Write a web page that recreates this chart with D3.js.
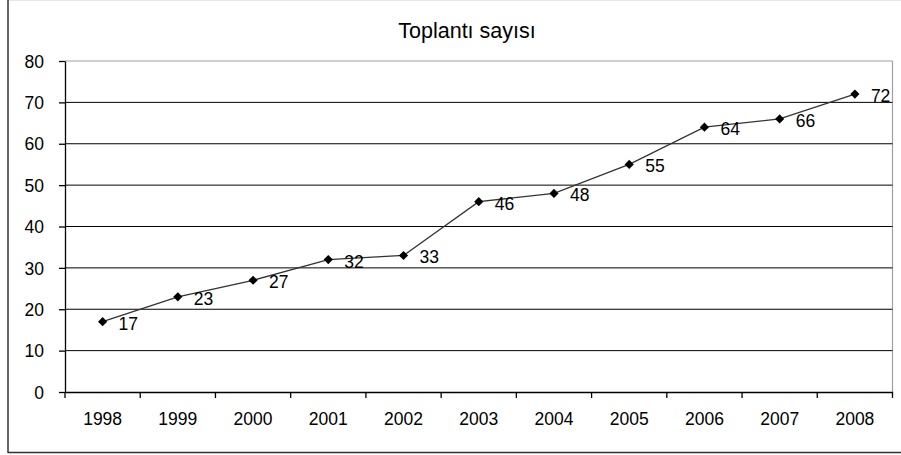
<!DOCTYPE html>
<html><head><meta charset="utf-8">
<script src="https://cdn.jsdelivr.net/npm/d3@7"></script>
<style>body{margin:0;background:#fff}svg{display:block}</style>
</head><body>
<svg id="c" width="901" height="455"></svg>
<script>
const title = "Toplantı sayısı";
const years = ["1998","1999","2000","2001","2002","2003","2004","2005","2006","2007","2008"];
const values = [17, 23, 27, 32, 33, 46, 48, 55, 64, 66, 72];
const yTicks = [0, 10, 20, 30, 40, 50, 60, 70, 80];

const svg = d3.select("#c");
const font = "Arial, 'Liberation Sans', sans-serif";
const L = 65, R = 892.5, T = 61, B = 392;

// outer frame
svg.append("line").attr("x1",8).attr("x2",901).attr("y1",0.5).attr("y2",0.5).attr("stroke","#e6e6e6");
svg.append("line").attr("x1",8).attr("x2",8).attr("y1",0).attr("y2",453).attr("stroke","#333").attr("stroke-width",1.5);
svg.append("line").attr("x1",8).attr("x2",901).attr("y1",452.5).attr("y2",452.5).attr("stroke","#333").attr("stroke-width",1.5);

const x = d3.scaleBand().domain(years).range([L, R]);
const y = d3.scaleLinear().domain([0, 80]).range([B, T]);

// plot area border (top/right gray)
svg.append("line").attr("x1",L).attr("x2",R).attr("y1",y(80)).attr("y2",y(80)).attr("stroke","#a0a0a0").attr("stroke-width",1.2);
svg.append("line").attr("x1",R).attr("x2",R).attr("y1",y(80)).attr("y2",B).attr("stroke","#a0a0a0").attr("stroke-width",1.2);

// gridlines
svg.append("g").selectAll("line").data(yTicks.filter(v => v > 0 && v < 80)).join("line")
  .attr("x1", L).attr("x2", R).attr("y1", d => y(d)).attr("y2", d => y(d))
  .attr("stroke", "#000").attr("stroke-width", 1);

// y axis
const gy = svg.append("g").attr("transform", `translate(${L},0)`)
  .call(d3.axisLeft(y).tickValues(yTicks).tickSize(6).tickPadding(15).tickSizeOuter(0));
gy.select(".domain").attr("stroke","#000").attr("stroke-width",1.3);
gy.selectAll(".tick line").attr("stroke","#000").attr("stroke-width",1.3);
gy.selectAll(".tick text").attr("font-family", font).attr("font-size", 17.5).attr("fill","#000").attr("dy","0.35em");

// x axis
const gx = svg.append("g").attr("transform", `translate(0,${B})`)
  .call(d3.axisBottom(x).tickSize(0).tickSizeOuter(0).tickPadding(21));
gx.select(".domain").attr("stroke","#000").attr("stroke-width",1.3);
gx.selectAll(".tick text").attr("font-family", font).attr("font-size", 17.5).attr("fill","#000");
// boundary ticks between categories
const bounds = years.map(d => x(d)).concat([x(years[years.length-1]) + x.bandwidth()]);
svg.append("g").selectAll("line").data(bounds).join("line")
  .attr("x1", d => d).attr("x2", d => d).attr("y1", B).attr("y2", B + 6)
  .attr("stroke", "#000").attr("stroke-width", 1.3);

const cx = d => x(d) + x.bandwidth() / 2;

// line
svg.append("path").datum(values)
  .attr("d", d3.line().x((d, i) => cx(years[i])).y(d => y(d)))
  .attr("fill", "none").attr("stroke", "#333").attr("stroke-width", 1.3);

// markers
svg.append("g").selectAll("path").data(values).join("path")
  .attr("d", d3.symbol(d3.symbolSquare, 42))
  .attr("transform", (d, i) => `translate(${cx(years[i])},${y(d)}) rotate(45)`)
  .attr("fill", "#000");

// labels
svg.append("g").selectAll("text").data(values).join("text")
  .attr("x", (d, i) => cx(years[i]) + 16)
  .attr("y", d => y(d) + 8)
  .attr("font-family", font).attr("font-size", 17.5).attr("fill", "#000")
  .text(d => d);

// title
svg.append("text").attr("x", 467).attr("y", 37.5).attr("text-anchor","middle")
  .attr("font-family", font).attr("font-size", 21.5).attr("fill","#000").text(title);
</script>
</body></html>
